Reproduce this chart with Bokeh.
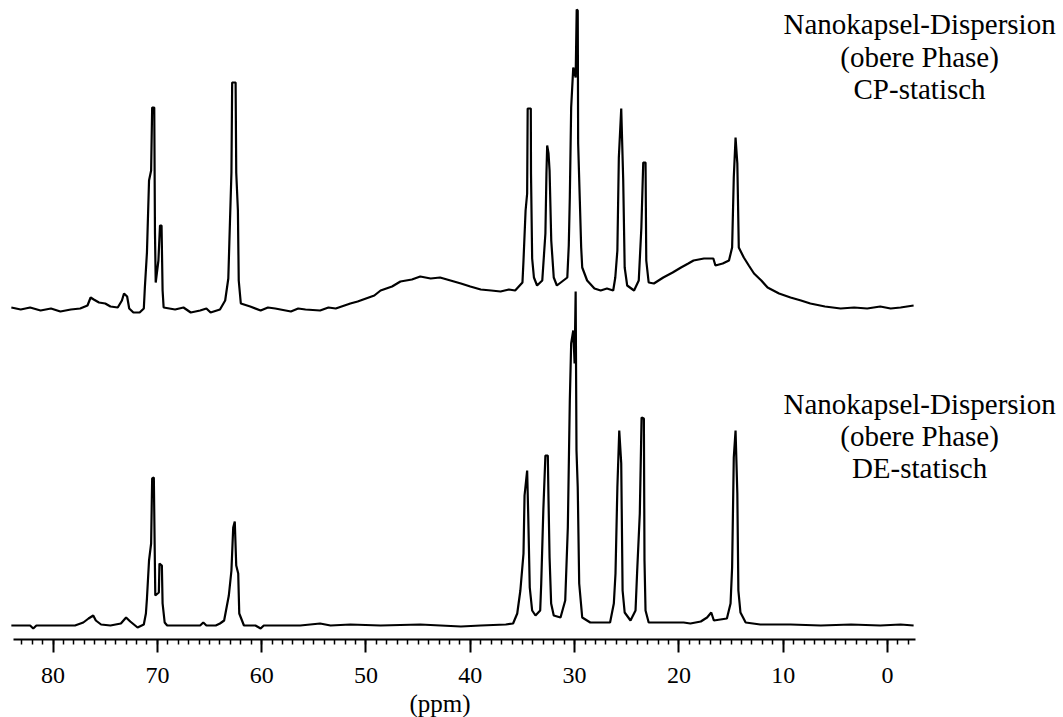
from bokeh.plotting import figure
from bokeh.models import Range1d, SingleIntervalTicker, Label, ColumnDataSource
from bokeh.embed import file_html
from bokeh.resources import INLINE

# ---------------- data ----------------
# upper spectrum: CP-statisch  (chemical shift in ppm, intensity above its baseline)
cp_ppm = [84.0, 83.1, 82.2, 81.2, 80.2, 79.3, 78.3, 77.4, 76.7, 76.4, 76.1, 75.6, 75.0, 74.5,
          73.8, 73.4, 73.2, 72.9, 72.7, 72.3, 71.7, 71.3, 71.2, 71.0, 70.8, 70.6, 70.5, 70.3,
          70.23, 70.16, 69.9, 69.75, 69.6, 69.5, 69.4, 68.3, 67.5, 66.8, 65.9, 65.3, 64.9, 64.0,
          63.5, 63.2, 63.1, 62.9, 62.83, 62.5, 62.44, 62.28, 62.2, 62.0,
          61.1, 60.1, 59.4, 58.7, 57.2, 56.5, 55.8, 54.4, 53.6, 52.9, 51.5, 50.8, 50.0, 49.2,
          48.6, 47.5, 46.7, 45.6, 44.8, 43.8, 42.9, 41.9, 40.9, 40.0,
          39.0, 38.0, 37.1, 36.3, 35.7,
          35.0, 34.9, 34.7, 34.55, 34.5, 34.2, 34.18, 34.07, 33.9, 33.6, 33.1,
          32.8, 32.7, 32.63, 32.5, 32.4, 32.24, 32.0, 31.7, 31.2, 30.7,
          30.56, 30.46, 30.33, 30.13, 29.9, 29.8, 29.7, 29.66, 29.5, 29.37, 29.27, 28.8, 28.1,
          27.5, 26.9, 26.3,
          26.1, 25.9, 25.76, 25.53, 25.34, 25.2, 24.96, 24.3, 23.85,
          23.6, 23.42, 23.2, 23.13, 22.9, 22.4,
          21.5, 20.6, 19.8, 19.1, 18.6, 17.6, 16.7, 16.5, 15.8, 15.2,
          14.9, 14.74, 14.57, 14.4, 14.26, 13.78, 13.3, 12.8, 12.1, 11.5, 10.4,
          9.3, 8.3, 7.4, 6.0, 4.5, 3.2, 1.95, 0.7, -0.3, -1.25, -2.5]
cp_int = [1, -1, 1, -2, 0, -3, -1, 0, 3, 11, 9, 6, 5, 2,
          1, 8, 15, 12, 0, -4, -4, 0, 21, 56, 128, 138, 201, 201,
          75, 26, 48, 83, 83, 18, 1, -1, 1, -4, -2, 0, -4, -1,
          8, 30, 66, 136, 226, 226, 136, 98, 28, 5,
          2, -2, 1, 0, -3, 0, -1, -2, 1, 0, 5, 7, 10, 13,
          18, 22, 27, 29, 32, 30, 31, 28, 25, 22,
          19, 18, 17, 19, 18,
          26, 48, 98, 115, 200, 200, 135, 50, 31, 23, 28,
          75, 135, 163, 155, 138, 68, 31, 23, 27, 31,
          63, 111, 201, 241, 231, 299, 298, 165, 108, 61, 41, 28, 20,
          18, 20, 18,
          31, 58, 151, 200, 128, 41, 23, 18, 28,
          81, 146, 146, 48, 26, 25,
          31, 36, 41, 45, 48, 50, 50, 43, 45, 48,
          61, 131, 171, 145, 61, 51, 43, 35, 28, 21, 15,
          11, 8, 5, 2, 0, 1, 0, 2, 0, 1, 3]

# lower spectrum: DE-statisch
de_ppm = [84.0, 82.2, 81.9, 81.6, 77.9, 77.1, 76.6, 76.15, 75.9, 75.4, 74.5, 73.5, 73.0, 72.6,
          71.9, 71.3,
          71.1, 71.0, 70.8, 70.6, 70.5, 70.34, 70.27, 70.2, 69.86, 69.8, 69.57, 69.5, 69.3, 69.06,
          67.8, 65.9, 65.6, 65.3, 64.4, 64.0,
          63.6, 63.15, 62.9, 62.73, 62.58, 62.44, 62.25, 62.15, 61.7,
          60.6, 60.1, 59.8, 56.3, 54.4, 53.4, 51.5, 48.6, 44.8, 40.9, 39.0, 36.6, 35.9,
          35.5, 35.2, 34.9, 34.8, 34.55, 34.45, 34.3, 34.07, 33.75, 33.3,
          33.2, 33.0, 32.8, 32.57, 32.5, 32.4, 32.25, 32.0, 31.35,
          30.9, 30.65, 30.46, 30.33, 30.13, 30.0, 29.9, 29.82, 29.7, 29.56, 29.27, 28.5, 26.6,
          26.24, 26.08, 25.9, 25.72, 25.53, 25.4, 25.2, 24.64, 24.16,
          24.0, 23.75, 23.58, 23.36, 23.3, 23.2, 22.9, 19.55, 18.9, 17.9, 17.3, 16.9, 16.65, 15.4,
          15.05, 14.9, 14.74, 14.57, 14.4, 14.3, 14.1, 13.6, 12.2, 9.3, 6.4, 3.5, 0.7, -1.25, -2.5]
de_int = [0, 0, -3, 0, 0, 3, 7, 10, 5, 1, 0, 2, 8, 4,
          -2, 1,
          12, 27, 65, 82, 147, 148, 88, 30, 33, 62, 60, 22, 3, 0,
          0, 0, 3, 0, 0, 2,
          5, 30, 55, 98, 104, 60, 52, 12, 0,
          0, -3, 0, 0, 2, 0, 1, 0, 1, -1, 0, 1, 2,
          12, 35, 72, 130, 155, 112, 38, 15, 10, 15,
          42, 115, 170, 170, 125, 68, 22, 10, 8,
          25, 98, 225, 282, 295, 262, 334, 175, 138, 42, 8, 3, 3,
          22, 52, 138, 195, 162, 35, 13, 5, 15,
          55, 112, 208, 207, 65, 15, 3, 3, 2, 4, 8, 13, 5, 7,
          22, 58, 168, 195, 132, 35, 13, 3, 1, 1, 0, 1, 0, 1, 0]

cp_offset = 331   # vertical stacking offset of upper trace
de_offset = 14    # vertical stacking offset of lower trace

axis_unit = "(ppm)"
cp_label = ["Nanokapsel-Dispersion", "(obere Phase)", "CP-statisch"]
de_label = ["Nanokapsel-Dispersion", "(obere Phase)", "DE-statisch"]

# ---------------- figure ----------------
FONT = "Liberation Serif"
p = figure(width=1063, height=717,
           x_range=Range1d(85.04, -16.87), y_range=Range1d(-78, 639),
           output_backend="svg", toolbar_location=None,
           y_axis_location=None,
           min_border_left=0, min_border_right=0, min_border_top=0, min_border_bottom=0)
p.outline_line_color = None
p.grid.visible = False
p.background_fill_color = "white"
p.border_fill_color = "white"

src_cp = ColumnDataSource(dict(x=cp_ppm, y=[v + cp_offset for v in cp_int]))
src_de = ColumnDataSource(dict(x=de_ppm, y=[v + de_offset for v in de_int]))
p.line("x", "y", source=src_cp, line_color="black", line_width=2.2)
p.line("x", "y", source=src_de, line_color="black", line_width=2.2)

ax = p.xaxis[0]
ax.fixed_location = 0
ax.ticker = SingleIntervalTicker(interval=10, num_minor_ticks=10)
ax.bounds = (-2.7, 83.8)
ax.axis_line_width = 2
ax.axis_line_color = "black"
ax.major_tick_out = 13
ax.major_tick_in = 0
ax.minor_tick_out = 5
ax.minor_tick_in = 0
ax.major_tick_line_width = 2
ax.minor_tick_line_width = 1.5
ax.major_label_text_font = FONT
ax.major_label_text_font_size = "24px"
ax.major_label_text_color = "black"
ax.major_label_standoff = 15

p.add_layout(Label(x=42.9, y=-77, text=axis_unit,
                   text_font=FONT, text_font_size="25px", text_align="center",
                   text_baseline="bottom", text_color="black"))

for lines, ys in ((cp_label, [616, 583, 551]), (de_label, [236, 204, 172])):
    for t, yy in zip(lines, ys):
        p.add_layout(Label(x=-3.07, y=yy, text=t, text_font=FONT, text_font_size="29px",
                           text_align="center", text_baseline="middle", text_color="black"))

open("out.html", "w").write(file_html(p, INLINE))
